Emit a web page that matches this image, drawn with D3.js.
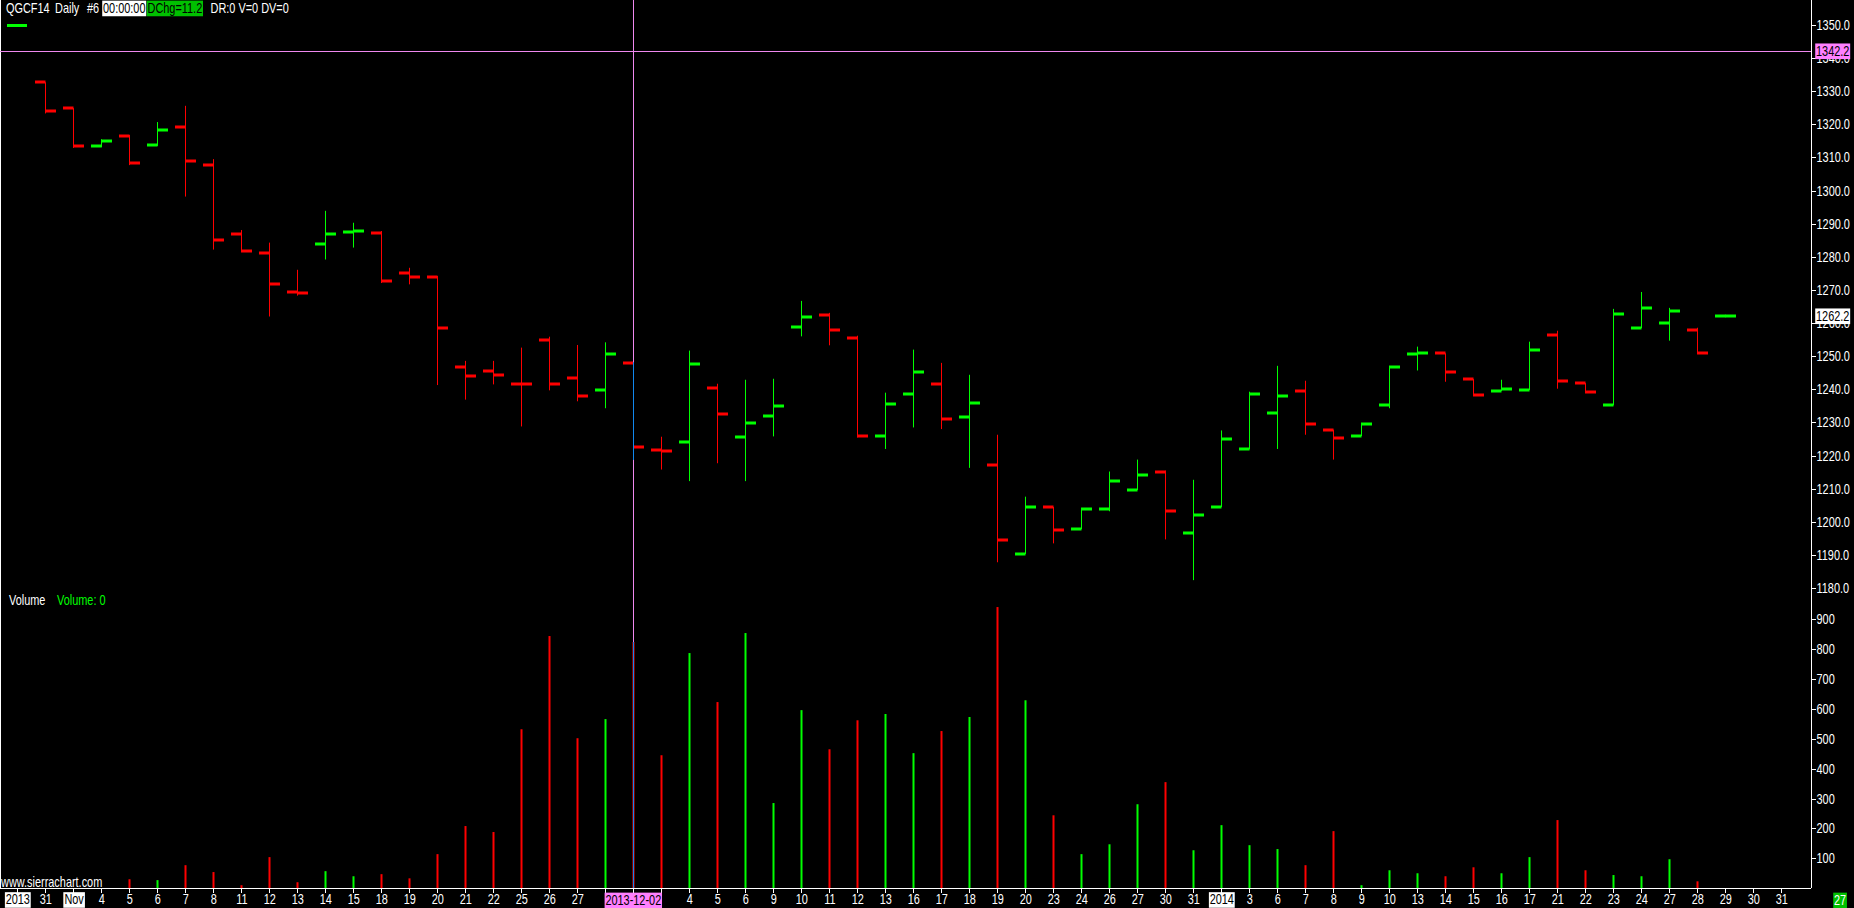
<!DOCTYPE html>
<html>
<head>
<meta charset="utf-8">
<title>QGCF14 Daily</title>
<style>
    html, body { margin: 0; padding: 0; background: #000; overflow: hidden; }
    svg { display: block; }
    text { font-family: "Liberation Sans", Arial, sans-serif; font-size: 14px; }
    .axis path, .axis line { stroke: #fff; shape-rendering: crispEdges; }
    .axis text { fill: #fff; font-family: "Liberation Sans", Arial, sans-serif; font-size: 14px; }
</style>
<script src="https://d3js.org/d3.v7.min.js"></script>
</head>
<body>
<script>
"use strict";

// every slot on the time axis (incl. two empty future days at the end)
const dates = [
    "2013-10-30", "2013-10-31", "2013-11-01", "2013-11-04", "2013-11-05", "2013-11-06", "2013-11-07", "2013-11-08",
    "2013-11-11", "2013-11-12", "2013-11-13", "2013-11-14", "2013-11-15", "2013-11-18", "2013-11-19", "2013-11-20",
    "2013-11-21", "2013-11-22", "2013-11-25", "2013-11-26", "2013-11-27", "2013-11-29", "2013-12-02", "2013-12-03",
    "2013-12-04", "2013-12-05", "2013-12-06", "2013-12-09", "2013-12-10", "2013-12-11", "2013-12-12", "2013-12-13",
    "2013-12-16", "2013-12-17", "2013-12-18", "2013-12-19", "2013-12-20", "2013-12-23", "2013-12-24", "2013-12-26",
    "2013-12-27", "2013-12-30", "2013-12-31", "2014-01-02", "2014-01-03", "2014-01-06", "2014-01-07", "2014-01-08",
    "2014-01-09", "2014-01-10", "2014-01-13", "2014-01-14", "2014-01-15", "2014-01-16", "2014-01-17", "2014-01-21",
    "2014-01-22", "2014-01-23", "2014-01-24", "2014-01-27", "2014-01-28", "2014-01-29", "2014-01-30", "2014-01-31"
];

const tickLabels = [
    "2013", "31", "Nov", "4", "5", "6", "7", "8", "11", "12", "13", "14", "15", "18", "19", "20",
    "21", "22", "25", "26", "27", "29", "Dec", "3", "4", "5", "6", "9", "10", "11", "12", "13",
    "16", "17", "18", "19", "20", "23", "24", "26", "27", "30", "31", "2014", "3", "6", "7", "8",
    "9", "10", "13", "14", "15", "16", "17", "21", "22", "23", "24", "27", "28", "29", "30", "31"
];
const boxedLabels = ["2013", "Nov", "2014"];

// bars run from Oct 31 to Jan 29
const barDates = dates.slice(1, 62);

const opens = [
    1332.7, 1324.9, 1313.4, 1316.5, 1313.7, 1319.2, 1307.6, 1286.9, 1281.2, 1269.3,
    1283.9, 1287.5, 1287.2, 1275.1, 1273.9, 1246.7, 1245.5, 1241.6, 1254.9, 1243.4,
    1239.8, 1247.9, 1221.7, 1224.1, 1240.4, 1225.6, 1231.9, 1258.8, 1262.5, 1255.6,
    1225.9, 1238.6, 1241.6, 1231.6, 1217.2, 1190.3, 1204.5, 1197.8, 1203.9, 1209.6,
    1215.1, 1196.6, 1204.5, 1221.9, 1232.8, 1239.5, 1227.8, 1225.9, 1235.2, 1250.6,
    1250.9, 1243.1, 1239.5, 1239.8, 1256.4, 1241.9, 1235.2, 1258.5, 1260.0, 1257.9,
    1262.2
];
const highs = [
    1332.7, 1324.9, 1315.5, 1316.8, 1320.7, 1325.6, 1309.5, 1288.1, 1284.3, 1276.1,
    1293.9, 1290.3, 1287.8, 1276.7, 1274.2, 1248.6, 1248.6, 1252.6, 1255.9, 1253.4,
    1254.2, 1248.2, 1225.7, 1251.7, 1241.7, 1242.9, 1243.2, 1266.7, 1263.1, 1256.2,
    1239.0, 1252.0, 1248.0, 1244.4, 1226.3, 1207.6, 1204.5, 1203.9, 1215.2, 1218.8,
    1215.5, 1212.7, 1227.6, 1239.3, 1247.1, 1242.6, 1227.8, 1229.5, 1246.7, 1252.9,
    1250.9, 1243.1, 1242.9, 1254.4, 1257.7, 1241.9, 1264.3, 1269.4, 1264.6, 1258.6,
    1262.2
];
const lows = [
    1323.3, 1312.9, 1313.1, 1307.7, 1313.5, 1298.2, 1282.2, 1281.5, 1262.0, 1268.3,
    1279.2, 1282.8, 1272.1, 1271.7, 1241.3, 1236.9, 1241.5, 1228.8, 1239.7, 1236.4,
    1234.3, 1218.7, 1215.8, 1212.3, 1217.7, 1212.3, 1225.8, 1256.0, 1253.3, 1225.5,
    1222.0, 1228.5, 1228.0, 1216.3, 1187.8, 1190.3, 1193.5, 1197.8, 1203.2, 1209.6,
    1194.7, 1182.4, 1204.5, 1221.9, 1222.0, 1226.3, 1218.8, 1225.9, 1234.3, 1245.7,
    1242.3, 1238.2, 1239.5, 1239.8, 1240.2, 1239.2, 1235.2, 1258.5, 1254.7, 1250.9,
    1262.2
];
const closes = [
    1323.9, 1313.4, 1314.9, 1308.3, 1318.2, 1308.9, 1285.1, 1281.8, 1271.8, 1269.0,
    1286.9, 1287.8, 1272.6, 1273.9, 1258.6, 1244.0, 1244.3, 1241.5, 1241.6, 1237.9,
    1250.6, 1222.6, 1221.4, 1247.6, 1232.6, 1229.8, 1235.0, 1261.8, 1257.9, 1225.9,
    1235.5, 1245.2, 1231.0, 1235.9, 1194.5, 1204.5, 1197.5, 1203.9, 1212.4, 1214.2,
    1203.3, 1202.1, 1225.1, 1238.6, 1237.9, 1229.5, 1225.3, 1229.5, 1246.7, 1250.9,
    1245.2, 1238.2, 1240.1, 1251.9, 1242.5, 1239.2, 1262.7, 1264.5, 1263.6, 1250.9,
    1262.2
];
const volumes = [
    0, 0, 0, 30, 27, 77, 54, 10, 104, 20,
    57, 40, 47, 33, 114, 208, 188, 532, 844, 502,
    566, 824, 445, 787, 623, 854, 285, 596, 465, 562,
    583, 452, 526, 573, 941, 629, 244, 114, 147, 281,
    355, 127, 211, 144, 131, 77, 191, 10, 60, 50,
    40, 70, 50, 104, 228, 60, 44, 40, 97, 23,
    0
];

const priceTicks = d3.range(1180, 1351, 10);
const volumeTicks = d3.range(100, 901, 100);

const cursorDate = "2013-12-02";
const cursorPrice = 1342.2;
const lastPrice = 1262.2;

(function () {

    let width = 1854, height = 908,
        axisX = 1811, baseY = 888,
        k = 0.78;   // horizontal squeeze, no narrow font installed

    let up = "#00ff00", down = "#ff0000",
        cursorColor = "#ee88ee", cursorXor = "#1188ee";

    let svg = d3.select("body").append("svg")
        .attr("width", width)
        .attr("height", height)
        .style("background", "#000");

    let x = d3.scalePoint()
        .domain(dates)
        .range([17.3, 1781.3]);

    let yPrice = d3.scaleLinear()
        .domain([1180, 1350])
        .range([588.1, 25]);

    let yVol = d3.scaleLinear()
        .domain([0, 900])
        .range([baseY + 0.2, 619.3]);

    let bars = barDates.map(function (d, i) {
        return {date: d, open: opens[i], high: highs[i], low: lows[i], close: closes[i], volume: volumes[i]};
    });

    let px = function (d) { return Math.round(x(d)) + 0.5; };
    let colour = function (d) { return d.close >= d.open ? up : down; };

    // squeeze text horizontally around its own origin
    function squeeze(sel) {
        sel.each(function () {
            let t = d3.select(this);
            let xx = +t.attr("x") || 0;
            t.attr("x", xx / k).attr("transform", "scale(" + k + ",1)");
        });
    }

    // ****************** frame ***************************
    svg.append("line")
        .attr("x1", 0.5).attr("x2", 0.5).attr("y1", 0).attr("y2", baseY)
        .attr("stroke", "#fff");

    // ****************** volume bars ***************************
    svg.append("g").selectAll("rect.vol")
        .data(bars.filter(function (d) { return d.volume > 0; }))
        .enter().append("rect")
        .attr("class", "vol")
        .attr("x", function (d) { return Math.round(x(d.date)) - 0.5; })
        .attr("width", 2)
        .attr("y", function (d) { return yVol(d.volume); })
        .attr("height", function (d) { return yVol(0) - yVol(d.volume); })
        .attr("fill", colour);

    // ****************** price bars (OHLC) ***************************
    let bar = svg.append("g").selectAll("g.bar")
        .data(bars)
        .enter().append("g")
        .attr("class", "bar");

    bar.append("line")
        .attr("x1", function (d) { return px(d.date); })
        .attr("x2", function (d) { return px(d.date); })
        .attr("y1", function (d) { return yPrice(d.high); })
        .attr("y2", function (d) { return yPrice(d.low); })
        .attr("stroke", colour)
        .attr("stroke-width", 1);

    // open on the left, close on the right
    bar.append("rect")
        .attr("x", function (d) { return px(d.date) - 10.5; })
        .attr("y", function (d) { return Math.round(yPrice(d.open)) - 1.5; })
        .attr("width", 10.5)
        .attr("height", 3)
        .attr("fill", colour);

    bar.append("rect")
        .attr("x", function (d) { return px(d.date) - 0.5; })
        .attr("y", function (d) { return Math.round(yPrice(d.close)) - 1.5; })
        .attr("width", 11)
        .attr("height", 3)
        .attr("fill", colour);

    // ****************** cursor (drawn xor-ish over the bar) ***************************
    let cx = px(cursorDate), cy = Math.round(yPrice(cursorPrice)) + 0.5;
    let cbar = bars.find(function (d) { return d.date === cursorDate; });

    svg.append("line")
        .attr("x1", 0).attr("x2", axisX).attr("y1", cy).attr("y2", cy)
        .attr("stroke", cursorColor);

    svg.append("line")
        .attr("x1", cx).attr("x2", cx).attr("y1", 0).attr("y2", baseY)
        .attr("stroke", cursorColor);

    svg.append("line")
        .attr("x1", cx).attr("x2", cx)
        .attr("y1", yPrice(cbar.high)).attr("y2", yPrice(cbar.low))
        .attr("stroke", cursorXor);

    svg.append("line")
        .attr("x1", cx).attr("x2", cx)
        .attr("y1", yVol(cbar.volume)).attr("y2", yVol(0))
        .attr("stroke", cursorXor);

    // ****************** axes ***************************
    svg.append("line")
        .attr("x1", axisX + 0.5).attr("x2", axisX + 0.5).attr("y1", 0).attr("y2", baseY)
        .attr("stroke", "#fff");

    svg.append("line")
        .attr("x1", 0).attr("x2", axisX).attr("y1", baseY + 0.5).attr("y2", baseY + 0.5)
        .attr("stroke", "#fff");

    let priceAxis = svg.append("g")
        .attr("class", "axis")
        .attr("transform", "translate(" + (axisX + 0.5) + ",0)")
        .call(d3.axisRight(yPrice)
            .tickValues(priceTicks)
            .tickFormat(d3.format(".1f"))
            .tickSize(4)
            .tickPadding(1));
    priceAxis.select(".domain").remove();
    squeeze(priceAxis.selectAll(".tick text"));

    let volAxis = svg.append("g")
        .attr("class", "axis")
        .attr("transform", "translate(" + (axisX + 0.5) + ",0)")
        .call(d3.axisRight(yVol)
            .tickValues(volumeTicks)
            .tickSize(4)
            .tickPadding(1));
    volAxis.select(".domain").remove();
    squeeze(volAxis.selectAll(".tick text"));

    let xAxis = svg.append("g")
        .attr("class", "axis")
        .attr("transform", "translate(0," + (baseY + 0.5) + ")")
        .call(d3.axisBottom(x)
            .tickSize(4)
            .tickPadding(2)
            .tickFormat(function (d, i) { return tickLabels[i]; }));
    xAxis.select(".domain").remove();

    // labels under the cursor label are not shown
    xAxis.selectAll(".tick text")
        .filter(function (d) { return Math.abs(x(d) - x(cursorDate)) < 40; })
        .remove();
    squeeze(xAxis.selectAll(".tick text"));

    xAxis.selectAll(".tick text")
        .filter(function () { return boxedLabels.indexOf(d3.select(this).text()) >= 0; })
        .each(function (d) {
            let t = d3.select(this), b = this.getBBox();
            let left = Math.max(b.x - 1, (1 - x(d)) / k);
            t.attr("x", left + 1 + b.width / 2);
            d3.select(this.parentNode).insert("rect", "text")
                .attr("x", left).attr("y", b.y)
                .attr("width", b.width + 2).attr("height", b.height)
                .attr("transform", "scale(" + k + ",1)")
                .attr("fill", "#fff");
            t.style("fill", "#000");
        });

    // texts, some with a box behind
    function tag(xx, yy, txt, bg, fg, anchor) {
        let g = svg.append("g")
            .attr("transform", "translate(" + xx + "," + yy + ") scale(" + k + ",1)");
        let t = g.append("text")
            .attr("dy", "0.35em")
            .attr("text-anchor", anchor || "start")
            .attr("fill", fg)
            .text(txt);
        if (bg) {
            let b = t.node().getBBox();
            g.insert("rect", "text")
                .attr("x", b.x - 1).attr("y", b.y)
                .attr("width", b.width + 2).attr("height", b.height)
                .attr("fill", bg);
        }
        return g;
    }

    tag(axisX + 5, yPrice(cursorPrice), d3.format(".1f")(cursorPrice), "#ff80ff", "#000");
    tag(axisX + 5, yPrice(lastPrice), d3.format(".1f")(lastPrice), "#fff", "#000");
    tag(x(cursorDate), baseY + 12, cursorDate, "#ff80ff", "#000", "middle");
    tag(1834, baseY + 12, "27", "#00c000", "#fff");

    // ****************** header texts ***************************
    let header = [
        {t: "QGCF14", x: 6, fg: "#fff"},
        {t: "Daily", x: 55, fg: "#fff"},
        {t: "#6", x: 87, fg: "#fff"},
        {t: "00:00:00", x: 103, fg: "#000", bg: "#fff"},
        {t: "DChg=11.2", x: 147.5, fg: "#000", bg: "#00c000"},
        {t: "DR:0 V=0 DV=0", x: 210.5, fg: "#fff"}
    ];
    header.forEach(function (h) {
        tag(h.x, 8, h.t, h.bg, h.fg);
    });

    svg.append("rect")
        .attr("x", 7).attr("y", 24).attr("width", 20).attr("height", 3)
        .attr("fill", up);

    tag(9, 600, "Volume", null, "#fff");
    tag(57, 600, "Volume: 0", null, up);
    tag(1, 882, "www.sierrachart.com", null, "#fff");

})();
</script>
</body>
</html>
